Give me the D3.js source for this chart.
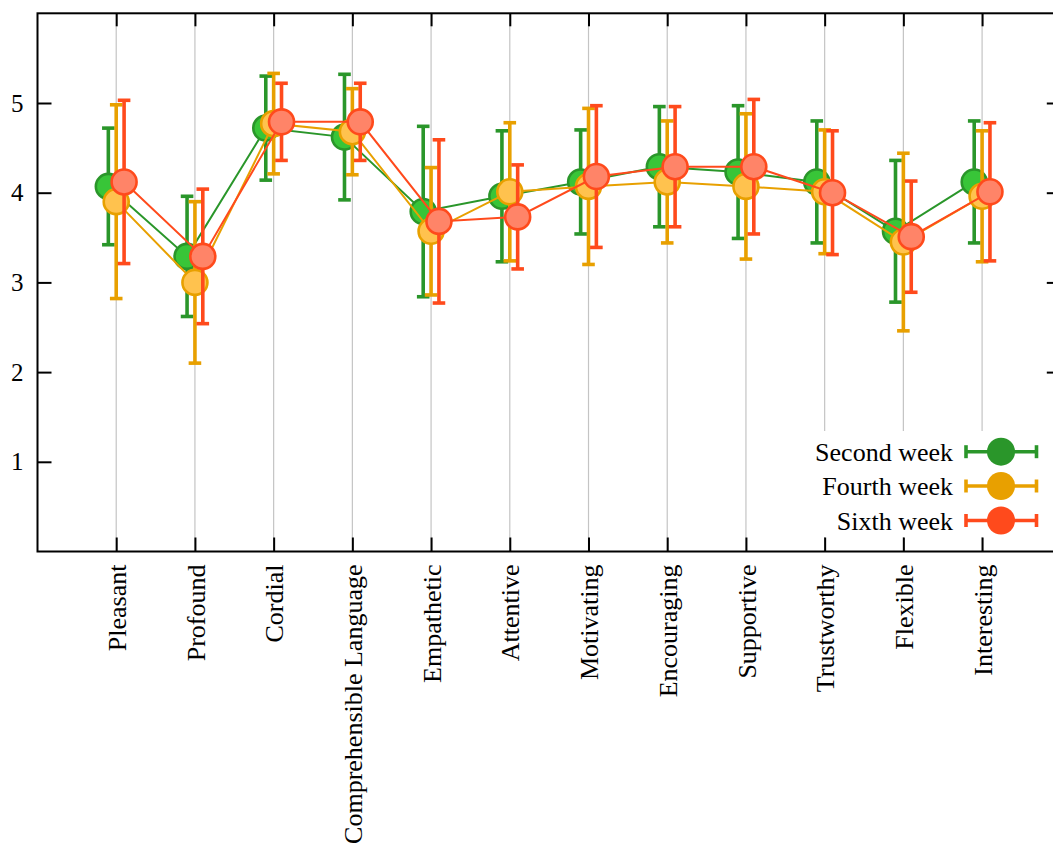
<!DOCTYPE html>
<html>
<head>
<meta charset="utf-8">
<script src="https://cdn.jsdelivr.net/npm/d3@7"></script>
<style>
  html, body { margin: 0; padding: 0; background: #fff; }
  svg { display: block; font-family: "Liberation Serif", "Times New Roman", serif; }
</style>
</head>
<body>
<svg id="chart" width="1053" height="850"></svg>
<script>
// Adjectives rated by participants, in display order
const categories = ["Pleasant", "Profound", "Cordial", "Comprehensible Language", "Empathetic",
  "Attentive", "Motivating", "Encouraging", "Supportive", "Trustworthy", "Flexible", "Interesting"];

// Mean ratings and standard deviations per survey week
const secondMean = [4.07, 3.29, 4.72, 4.62, 3.79, 3.96, 4.12, 4.29, 4.23, 4.12, 3.57, 4.12];
const secondErr  = [0.65, 0.67, 0.58, 0.70, 0.95, 0.73, 0.58, 0.67, 0.74, 0.68, 0.79, 0.68];
const fourthMean = [3.90, 3.00, 4.77, 4.68, 3.57, 4.01, 4.07, 4.12, 4.07, 4.01, 3.45, 3.96];
const fourthErr  = [1.08, 0.90, 0.56, 0.48, 0.71, 0.77, 0.87, 0.68, 0.81, 0.69, 0.99, 0.73];
const sixthMean  = [4.12, 3.29, 4.79, 4.79, 3.68, 3.73, 4.18, 4.29, 4.29, 4.00, 3.51, 4.01];
const sixthErr   = [0.91, 0.75, 0.43, 0.43, 0.91, 0.58, 0.79, 0.67, 0.75, 0.69, 0.62, 0.77];

const seriesNames = ["Second week", "Fourth week", "Sixth week"];
const yTicks = [1, 2, 3, 4, 5];

const series = [
  { name: seriesNames[0], mean: secondMean, err: secondErr, shift: -0.1, stroke: "#2a962a", fill: "#38c538" },
  { name: seriesNames[1], mean: fourthMean, err: fourthErr, shift: 0.0,  stroke: "#e8a000", fill: "#ffc24e" },
  { name: seriesNames[2], mean: sixthMean,  err: sixthErr,  shift: 0.1,  stroke: "#ff4a1c", fill: "#ff8468" }
];

const svg = d3.select("#chart");
const plotLeft = 37.5, plotRight = 1060.8, plotTop = 13.3, plotBottom = 551.5;

const x = d3.scaleLinear().domain([-1, 12]).range([plotLeft, plotRight]);
const y = d3.scaleLinear().domain([0, 6]).range([plotBottom, plotTop]);

// vertical grid at each category
svg.append("g").selectAll("line").data(categories).join("line")
  .attr("x1", (d, i) => x(i)).attr("x2", (d, i) => x(i))
  .attr("y1", plotBottom).attr("y2", plotTop)
  .attr("stroke", "#c4c4c4").attr("stroke-width", 1.2);

// axes with inward ticks
const tickLen = 14;
const yAxisL = d3.axisLeft(y).tickValues(yTicks).tickSize(-tickLen).tickPadding(14).tickFormat(d3.format("d"));
const yAxisR = d3.axisRight(y).tickValues(yTicks).tickSize(-tickLen).tickFormat("");
const xAxisB = d3.axisBottom(x).tickValues(d3.range(categories.length)).tickSize(-tickLen).tickFormat("");
const xAxisT = d3.axisTop(x).tickValues(d3.range(categories.length)).tickSize(-13).tickFormat("");

function styleAxis(g) {
  g.select(".domain").remove();
  g.selectAll(".tick line").attr("stroke", "#000").attr("stroke-width", 2);
  g.selectAll(".tick text").attr("fill", "#000").style("font-size", "25px")
    .style("font-family", "'Liberation Serif', serif");
}
svg.append("g").attr("transform", `translate(${plotLeft},0)`).call(yAxisL).call(styleAxis);
svg.append("g").attr("transform", `translate(${plotRight},0)`).call(yAxisR).call(styleAxis);
svg.append("g").attr("transform", `translate(0,${plotBottom})`).call(xAxisB).call(styleAxis);
svg.append("g").attr("transform", `translate(0,${plotTop})`).call(xAxisT).call(styleAxis);

// rotated category labels
svg.append("g").selectAll("text").data(categories).join("text")
  .attr("transform", (d, i) => `translate(${x(i)},${plotBottom + 13}) rotate(-90)`)
  .attr("text-anchor", "end")
  .attr("dy", "0.37em")
  .style("font-size", "26px")
  .text(d => d);

// data series: connecting line, error bars, markers
const capHalf = 6.3;
series.forEach(s => {
  const pts = s.mean.map((m, i) => ({ i, m, e: s.err[i] }));
  const g = svg.append("g");
  g.append("path")
    .attr("d", d3.line().x(d => x(d.i + s.shift)).y(d => y(d.m))(pts))
    .attr("fill", "none").attr("stroke", s.stroke).attr("stroke-width", 2);
  const eb = g.append("g").attr("stroke", s.stroke).attr("stroke-width", 3.6);
  pts.forEach(d => {
    const cx = x(d.i + s.shift);
    eb.append("line").attr("x1", cx).attr("x2", cx).attr("y1", y(d.m - d.e)).attr("y2", y(d.m + d.e));
    eb.append("line").attr("x1", cx - capHalf).attr("x2", cx + capHalf).attr("y1", y(d.m - d.e)).attr("y2", y(d.m - d.e));
    eb.append("line").attr("x1", cx - capHalf).attr("x2", cx + capHalf).attr("y1", y(d.m + d.e)).attr("y2", y(d.m + d.e));
  });
  g.selectAll("circle").data(pts).join("circle")
    .attr("cx", d => x(d.i + s.shift)).attr("cy", d => y(d.m)).attr("r", 12.5)
    .attr("fill", s.fill).attr("stroke", s.stroke).attr("stroke-width", 2.6);
});

// frame
svg.append("rect").attr("x", plotLeft).attr("y", plotTop)
  .attr("width", plotRight - plotLeft).attr("height", plotBottom - plotTop)
  .attr("fill", "none").attr("stroke", "#000").attr("stroke-width", 2);

// legend with opaque background
const legend = svg.append("g");
legend.append("rect").attr("x", 802).attr("y", 431).attr("width", 251).attr("height", 106).attr("fill", "#fff");
const rowY = [451.7, 486, 520.5];
series.forEach((s, k) => {
  const ry = rowY[k];
  legend.append("text").attr("x", 953).attr("y", ry).attr("dy", "0.35em")
    .attr("text-anchor", "end").style("font-size", "26px").text(s.name);
  const lg = legend.append("g").attr("stroke", s.stroke).attr("stroke-width", 3.6);
  lg.append("line").attr("x1", 966).attr("x2", 1036.5).attr("y1", ry).attr("y2", ry);
  lg.append("line").attr("x1", 966).attr("x2", 966).attr("y1", ry - 6.5).attr("y2", ry + 6.5);
  lg.append("line").attr("x1", 1036.5).attr("x2", 1036.5).attr("y1", ry - 6.5).attr("y2", ry + 6.5);
  legend.append("circle").attr("cx", 1001).attr("cy", ry).attr("r", 14).attr("fill", s.stroke);
});
</script>
</body>
</html>
